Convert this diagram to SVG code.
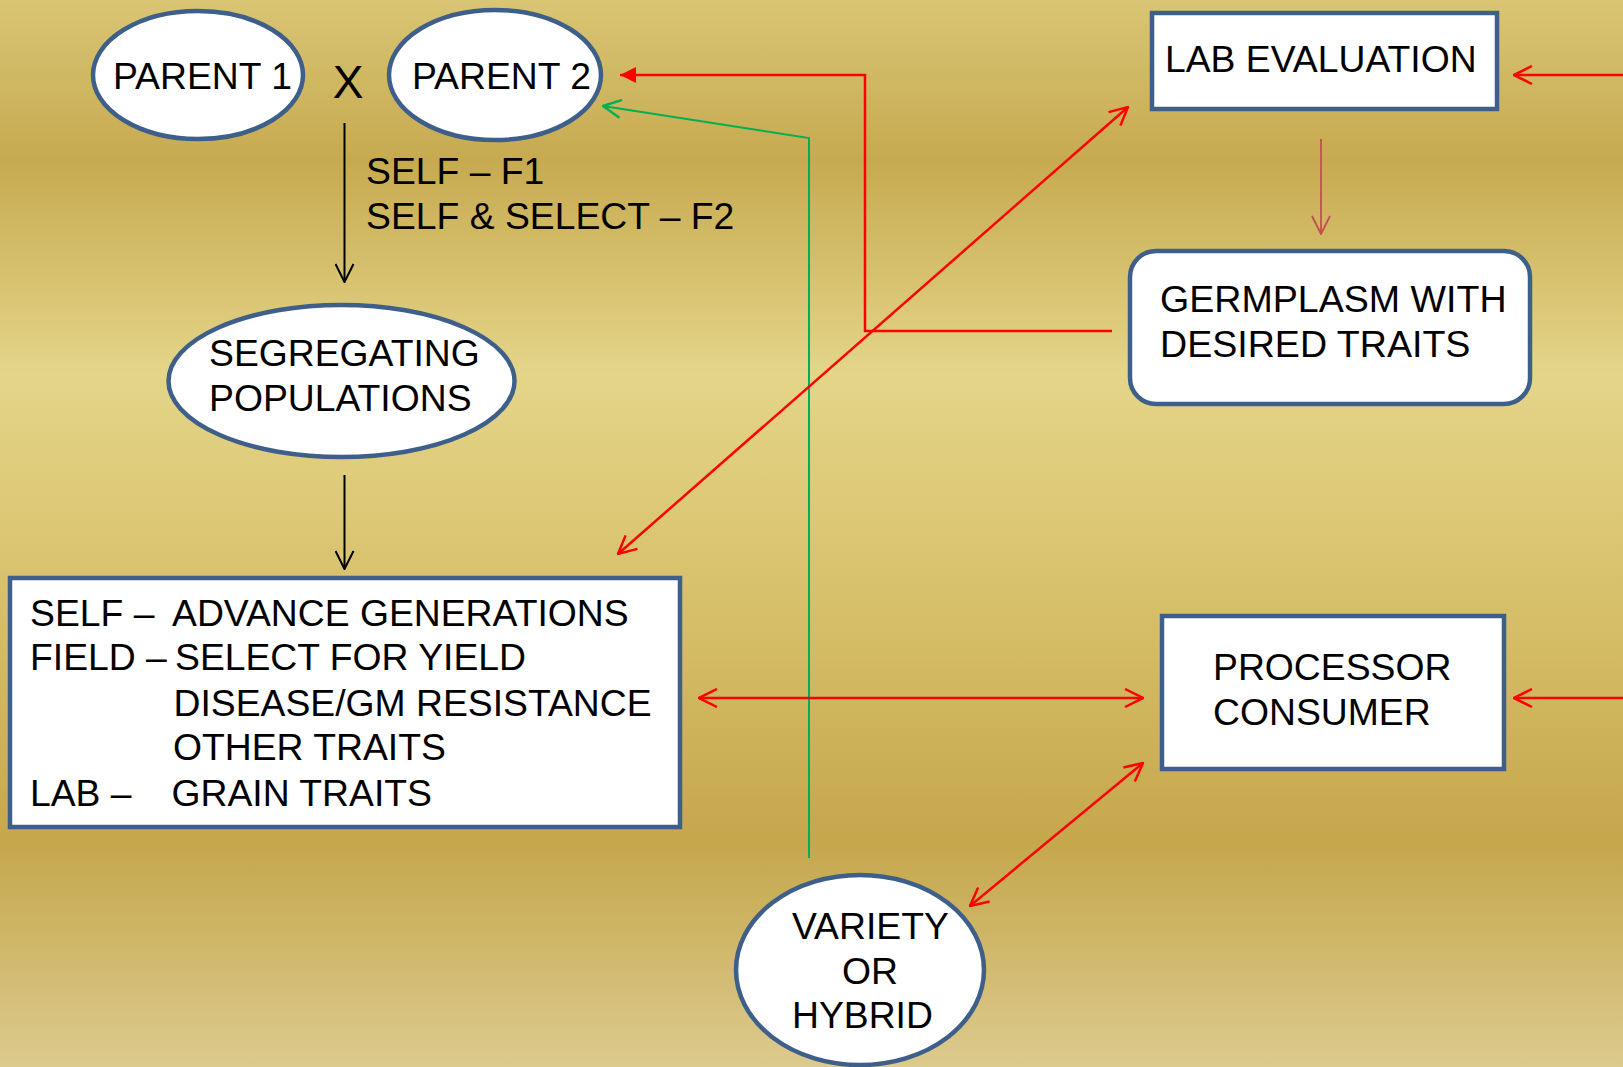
<svg xmlns="http://www.w3.org/2000/svg" width="1623" height="1067" viewBox="0 0 1623 1067">
<defs>
<linearGradient id="bg" x1="0" y1="0" x2="0" y2="1">
<stop offset="0" stop-color="#D9C574"/>
<stop offset="0.15" stop-color="#C7AA50"/>
<stop offset="0.35" stop-color="#E4D589"/>
<stop offset="0.57" stop-color="#D7BF69"/>
<stop offset="0.79" stop-color="#C5A74C"/>
<stop offset="1" stop-color="#DCCA8E"/>
</linearGradient>
<marker id="aBlack" viewBox="0 0 20 20" refX="19" refY="10" markerWidth="20" markerHeight="20" markerUnits="userSpaceOnUse" orient="auto-start-reverse">
<path d="M1,1 L19,10 L1,19" fill="none" stroke="#000" stroke-width="2"/>
</marker>
<marker id="aRed" viewBox="0 0 20 20" refX="19" refY="10" markerWidth="20" markerHeight="20" markerUnits="userSpaceOnUse" orient="auto-start-reverse">
<path d="M1,1 L19,10 L1,19" fill="none" stroke="#FF0000" stroke-width="2.5"/>
</marker>
<marker id="aGreen" viewBox="0 0 20 20" refX="19" refY="10" markerWidth="20" markerHeight="20" markerUnits="userSpaceOnUse" orient="auto-start-reverse">
<path d="M1,1 L19,10 L1,19" fill="none" stroke="#00B050" stroke-width="2.5"/>
</marker>
<marker id="aBrown" viewBox="0 0 20 20" refX="19" refY="10" markerWidth="20" markerHeight="20" markerUnits="userSpaceOnUse" orient="auto-start-reverse">
<path d="M1,1 L19,10 L1,19" fill="none" stroke="#C0504D" stroke-width="1.8"/>
</marker>
<marker id="aRedFill" viewBox="0 0 16 16" refX="16" refY="8" markerWidth="16" markerHeight="16" markerUnits="userSpaceOnUse" orient="auto">
<path d="M0,0 L16,8 L0,16 Z" fill="#FF0000"/>
</marker>
</defs>
<style>
.node{fill:#fff;stroke:#3E5F8A;stroke-width:4.5}
text{font-family:"Liberation Sans",Arial,sans-serif;font-size:37.3px;fill:#000}
.red{stroke:#FF0000;stroke-width:2.5;fill:none}
.blk{stroke:#000;stroke-width:2;fill:none}
.grn{stroke:#00B050;stroke-width:2;fill:none}
.brn{stroke:#C0504D;stroke-width:1.8;fill:none}
</style>
<rect x="0" y="0" width="1623" height="1067" fill="url(#bg)"/>

<g id="parent1">
<ellipse class="node" cx="198" cy="75" rx="105" ry="64"/>
<text x="113" y="89">PARENT 1</text>
</g>
<text x="348" y="98" text-anchor="middle" style="font-size:46px">X</text>
<g id="parent2">
<ellipse class="node" cx="495" cy="75" rx="106" ry="65"/>
<text x="412" y="89">PARENT 2</text>
</g>
<text x="366" y="184">SELF – F1</text>
<text x="366" y="229">SELF &amp; SELECT – F2</text>

<g id="segregating">
<ellipse class="node" cx="341.5" cy="381" rx="173" ry="76"/>
<text x="209" y="366">SEGREGATING</text>
<text x="209" y="411">POPULATIONS</text>
</g>

<g id="selection">
<rect class="node" x="10" y="578" width="670" height="249"/>
<text x="30" y="626">SELF –</text>
<text x="172" y="626">ADVANCE GENERATIONS</text>
<text x="30" y="670">FIELD –</text>
<text x="175" y="670">SELECT FOR YIELD</text>
<text x="173.5" y="716">DISEASE/GM RESISTANCE</text>
<text x="173" y="760">OTHER TRAITS</text>
<text x="30" y="806">LAB –</text>
<text x="171.5" y="806">GRAIN TRAITS</text>
</g>

<g id="lab">
<rect class="node" x="1152" y="13" width="345" height="96"/>
<text x="1165" y="72">LAB EVALUATION</text>
</g>

<g id="germplasm">
<rect class="node" x="1130" y="251" width="400" height="153" rx="26" ry="26"/>
<text x="1160" y="312" style="font-size:37.6px">GERMPLASM WITH</text>
<text x="1160" y="357" style="font-size:37.6px">DESIRED TRAITS</text>
</g>

<g id="processor">
<rect class="node" x="1162" y="616" width="342" height="153"/>
<text x="1213" y="680">PROCESSOR</text>
<text x="1213" y="725">CONSUMER</text>
</g>

<g id="variety">
<ellipse class="node" cx="860" cy="970" rx="124" ry="95"/>
<text x="792" y="939">VARIETY</text>
<text x="842" y="984">OR</text>
<text x="792" y="1028">HYBRID</text>
</g>

<g id="connectors">
<line class="blk" x1="344.5" y1="123" x2="344.5" y2="282" marker-end="url(#aBlack)"/>
<line class="blk" x1="344.5" y1="475" x2="344.5" y2="569" marker-end="url(#aBlack)"/>
<polyline class="red" points="1112,331 865,331 865,75 620,75" marker-end="url(#aRedFill)"/>
<polyline class="grn" points="809,858 809,138 603,106" marker-end="url(#aGreen)"/>
<line class="red" x1="618" y1="554" x2="1128" y2="107" marker-start="url(#aRed)" marker-end="url(#aRed)"/>
<line class="red" x1="699" y1="698" x2="1143" y2="698" marker-start="url(#aRed)" marker-end="url(#aRed)"/>
<line class="red" x1="970" y1="906" x2="1143" y2="763" marker-start="url(#aRed)" marker-end="url(#aRed)"/>
<line class="red" x1="1623" y1="75" x2="1514" y2="75" marker-end="url(#aRed)"/>
<line class="red" x1="1623" y1="698" x2="1514" y2="698" marker-end="url(#aRed)"/>
<line class="brn" x1="1321" y1="139" x2="1321" y2="234" marker-end="url(#aBrown)"/>
</g>
</svg>
